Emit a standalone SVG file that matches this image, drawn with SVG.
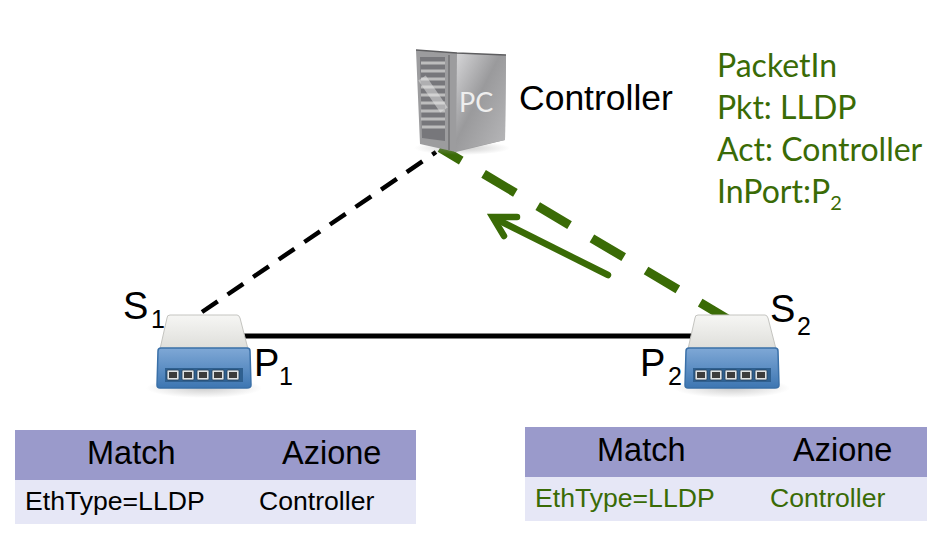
<svg xmlns="http://www.w3.org/2000/svg" width="946" height="540" viewBox="0 0 946 540">
<style>
text{font-family:"Liberation Sans",Arial,sans-serif;fill:#000}
.lbl{font-size:38px}
.ctl{font-size:35.5px}
.sub{font-size:25px}
.th{font-size:32.5px}
.td{font-size:26.6px}
.g{fill:#3a6b06}
.gt{font-family:Lato,"Noto Sans",sans-serif;font-size:32px;fill:#3a6b06}
.head{fill:#9a9acb}
.row{fill:#e6e7f6}
.port{fill:#dfe3e5;stroke:#24405c;stroke-width:0.8}
</style>
<defs>
<linearGradient id="white" x1="0" y1="0" x2="0" y2="1"><stop offset="0" stop-color="#f6f6f4"/><stop offset="1" stop-color="#dededa"/></linearGradient>
<linearGradient id="blue" x1="0" y1="0" x2="0" y2="1"><stop offset="0" stop-color="#7fa8d6"/><stop offset="1" stop-color="#3d76b2"/></linearGradient>
<linearGradient id="side" x1="0" y1="0" x2="1" y2="1"><stop offset="0" stop-color="#d6d6d8"/><stop offset="0.45" stop-color="#9a9a9c"/><stop offset="1" stop-color="#b8b8ba"/></linearGradient>
<radialGradient id="shadow"><stop offset="0" stop-color="#999" stop-opacity="0.5"/><stop offset="1" stop-color="#999" stop-opacity="0"/></radialGradient>
<g id="switch">
<ellipse cx="204" cy="388" rx="58" ry="10" fill="url(#shadow)"/>
<path d="M170 315H237Q239 315 240 318L248 349H160L167 318Q167 315 170 315Z" fill="url(#white)" stroke="#c4c4c0" stroke-width="1"/>
<path d="M161 348H247Q250 348 250 351L251 385Q251 388 247 388H160Q157 388 157 385L158 351Q158 348 161 348Z" fill="url(#blue)" stroke="#3a70a8" stroke-width="1.5"/>
<rect x="165" y="368" width="78" height="14" fill="#2f6090"/>
<rect class="port" x="167" y="370" width="12" height="10" rx="1"/><rect class="port" x="182" y="370" width="12" height="10" rx="1"/><rect class="port" x="197" y="370" width="12" height="10" rx="1"/><rect class="port" x="212" y="370" width="12" height="10" rx="1"/><rect class="port" x="227" y="370" width="12" height="10" rx="1"/>
<path d="M169 372h8v6h-8zM184 372h8v6h-8zM199 372h8v6h-8zM214 372h8v6h-8zM229 372h8v6h-8z" fill="#3c3c3c"/>
</g>
</defs>

<g id="connectors" fill="none">
<path d="M240 336H695" stroke="#000" stroke-width="5"/>
<path d="M202 312L436 152" stroke="#000" stroke-width="4.5" stroke-dasharray="19 12"/>
<path d="M732 321.6L440 148" stroke="#3a6b06" stroke-width="9" stroke-dasharray="37 26"/>
<path d="M608 275L494 218" stroke="#3a6b06" stroke-width="6.5" stroke-linecap="round"/>
<path d="M517 217H492.6L504 236" stroke="#3a6b06" stroke-width="6.5" stroke-linecap="round" stroke-linejoin="miter"/>
</g>

<g id="controller">
<ellipse cx="462" cy="148" rx="48" ry="7" fill="url(#shadow)"/>
<path d="M416 50L457 53L506 55L505 140L456 152L420 144Z" fill="#9c9c9e"/>
<path d="M457 53L506 55L505 140L456 151Z" fill="url(#side)"/>
<path d="M416 50L457 53L506 55" fill="none" stroke="#5e5e60" stroke-width="1.5"/>
<path d="M420 57H445V141L422 138Z" fill="#77777b"/>
<path d="M421 63H445M421 71H445M421 79H445M421 87H445M421 95H445M421 103H445M421 111H445M421 119H445M422 127H445" stroke="#bdbdbd" stroke-width="3"/>
<path d="M422 78L444 110" stroke="#e8e8e8" stroke-width="9" opacity="0.5"/>
<path d="M449 55V150" stroke="#7c7c7e" stroke-width="2"/>
<text x="459" y="112" style="font-family:Lato,'Noto Sans',sans-serif;font-size:27px;fill:#eeeeee">PC</text>
</g>
<text x="519" y="110" class="ctl">Controller</text>

<g id="s1">
<use href="#switch"/>
<text x="123" y="319" class="lbl">S</text><text x="151" y="328" class="sub">1</text>
<text x="254" y="376" class="lbl">P</text><text x="279" y="385" class="sub">1</text>
</g>
<g id="s2">
<use href="#switch" x="528"/>
<text x="770" y="322" class="lbl">S</text><text x="797" y="335" class="sub">2</text>
<text x="640" y="376" class="lbl">P</text><text x="668" y="385" class="sub">2</text>
</g>

<g id="message">
<text x="717" y="77" class="gt">PacketIn</text>
<text x="717" y="119" class="gt">Pkt: LLDP</text>
<text x="717" y="161" class="gt">Act: Controller</text>
<text x="717" y="203" class="gt">InPort:P<tspan font-size="20" dy="7">2</tspan></text>
</g>

<g id="table-left">
<rect class="head" x="15" y="430" width="401" height="50"/>
<rect class="row" x="15" y="480" width="401" height="44"/>
<text x="87" y="464" class="th">Match</text>
<text x="282" y="464" class="th">Azione</text>
<text x="25" y="510" class="td">EthType=LLDP</text>
<text x="259" y="510" class="td">Controller</text>
</g>
<g id="table-right">
<rect class="head" x="525" y="427" width="402" height="50"/>
<rect class="row" x="525" y="477" width="402" height="44"/>
<text x="597" y="461" class="th">Match</text>
<text x="793" y="461" class="th">Azione</text>
<text x="535" y="507" class="td g">EthType=LLDP</text>
<text x="770" y="507" class="td g">Controller</text>
</g>
</svg>
